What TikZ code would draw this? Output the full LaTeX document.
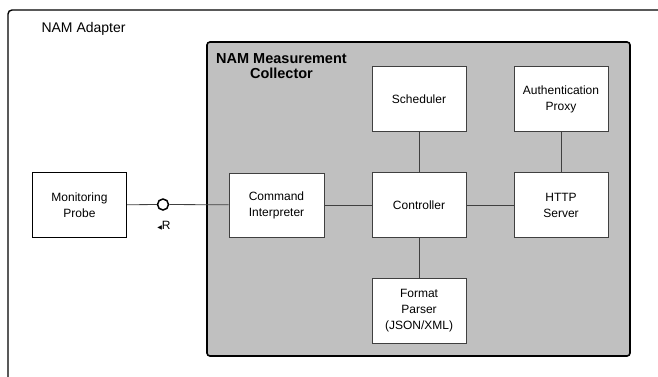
\documentclass[tikz,border=0pt]{standalone}
\usepackage{fontspec}
\setmainfont{Liberation Sans}
\newfontfamily\symfont{DejaVu Sans}
\definecolor{collectorgray}{HTML}{C0C0C0}
\definecolor{edgegray}{HTML}{404040}
\begin{document}
\begin{tikzpicture}[x=1pt,y=-1pt,
  part/.style={draw=edgegray, line width=0.8pt, fill=white, rectangle,
    minimum width=94pt, minimum height=65pt, align=center, inner sep=2pt,
    font=\fontsize{12}{16}\selectfont},
  extpart/.style={part, draw=black, line width=1.4pt},
  link/.style={draw=edgegray, line width=0.8pt},
  iface/.style={circle, draw=black, line width=1.5pt, fill=white,
    minimum size=11pt, inner sep=0pt}]
\useasboundingbox (0,0) rectangle (658,376);
\clip (0,0) rectangle (658,376);

% enclosing adapter frame (runs past the page edges)
\draw[line width=1.4pt, rounded corners=4pt, fill=white] (8,10) rectangle (680,400);
\node[anchor=base west, font=\fontsize{14}{17}\selectfont] (adapterlbl) at (38,32) {NAM Adapter};

% measurement collector container
\node[draw=black, line width=1.6pt, fill=collectorgray, rounded corners=3pt,
  minimum width=423pt, minimum height=314pt, inner sep=0pt] (mc) at (418.5,199) {};
\node[anchor=north west, align=center, inner sep=0pt,
  font=\bfseries\fontsize{14.5}{15.5}\selectfont] (mclbl) at (216,53) {NAM Measurement\\Collector};

% components
\node[part] (sched) at (419,99) {Scheduler};
\node[part] (auth) at (561,99) {Authentication\\Proxy};
\node[part] (ctrl) at (419,205) {Controller};
\node[part] (http) at (561,205) {HTTP\\Server};
\node[part] (fmt) at (419,310.5) {Format\\Parser\\(JSON/XML)};
\node[part, minimum width=95pt, minimum height=64pt] (cmd) at (276.5,205) {Command\\Interpreter};
\node[extpart] (probe) at (79.5,205) {Monitoring\\Probe};

% provided interface
\node[iface] (r) at (163,204.5) {};
\node[font=\fontsize{12}{14}\selectfont, inner sep=0pt] (rlbl) at (164,225.5) {{\symfont\fontsize{6}{8}\selectfont ◀}R};

% connectors
\draw[link] (probe) -- (r);
\draw[link] (r) -- (cmd);
\draw[link] (cmd) -- (ctrl);
\draw[link] (ctrl) -- (http);
\draw[link] (ctrl) -- (sched);
\draw[link] (ctrl) -- (fmt);
\draw[link] (http) -- (auth);
\end{tikzpicture}
\end{document}
